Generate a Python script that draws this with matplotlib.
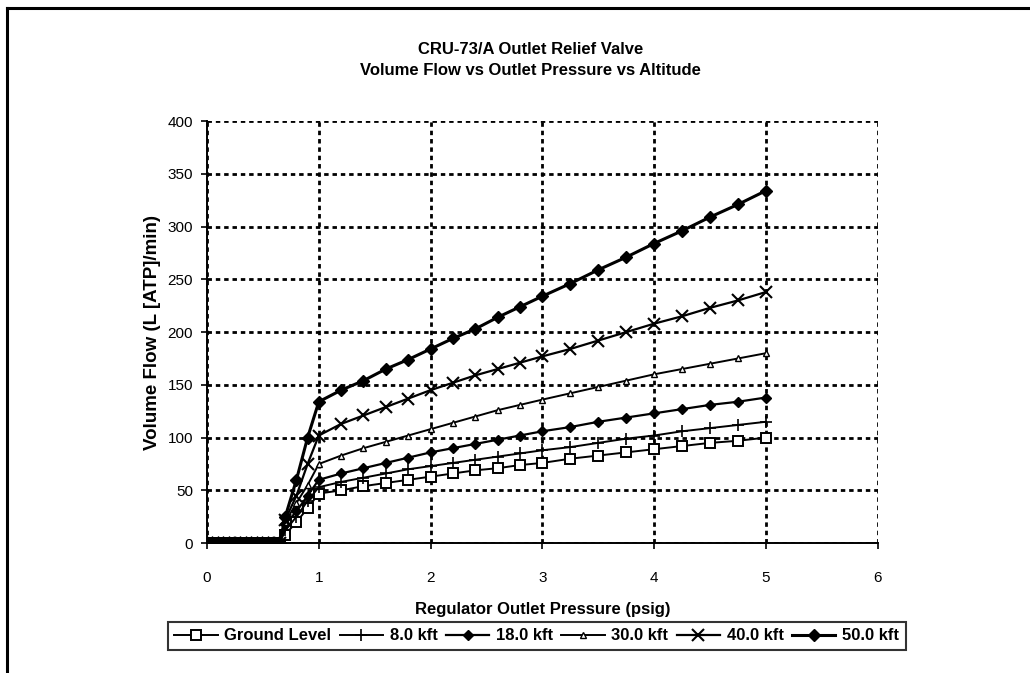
import matplotlib
matplotlib.use("Agg")
import matplotlib.pyplot as plt
from matplotlib.lines import Line2D
import numpy as np

plt.rcParams['font.family'] = ['Liberation Sans', 'DejaVu Sans']

# ---- data ----
x_zero = [0.0, 0.05, 0.1, 0.15, 0.2, 0.25, 0.3, 0.35, 0.4, 0.45, 0.5, 0.55, 0.6, 0.65]
x_rise = [0.7, 0.8, 0.9, 1.0, 1.2, 1.4, 1.6, 1.8, 2.0, 2.2, 2.4, 2.6, 2.8, 3.0,
          3.25, 3.5, 3.75, 4.0, 4.25, 4.5, 4.75, 5.0]
pressure = x_zero + x_rise
zeros = [0] * len(x_zero)

ground = zeros + [8, 20, 33, 47, 50, 54, 57, 60, 63, 66, 69, 71, 74, 76,
                  80, 83, 86, 89, 92, 95, 97, 100]
kft8 = zeros + [12, 25, 40, 53, 58, 62, 66, 70, 73, 76, 79, 82, 85, 88,
                91, 95, 99, 102, 106, 109, 112, 115]
kft18 = zeros + [18, 30, 45, 60, 66, 71, 76, 81, 86, 90, 94, 98, 102, 106,
                 110, 115, 119, 123, 127, 131, 134, 138]
kft30 = zeros + [20, 38, 55, 75, 83, 90, 96, 102, 108, 114, 120, 126, 131, 136,
                 142, 148, 154, 160, 165, 170, 175, 180]
kft40 = zeros + [22, 45, 75, 102, 113, 121, 129, 137, 145, 152, 159, 165, 171, 177,
                 184, 192, 200, 208, 215, 223, 230, 238]
kft50 = zeros + [25, 60, 100, 134, 145, 154, 165, 174, 184, 194, 203, 214, 224, 234,
                 246, 259, 271, 284, 296, 309, 321, 334]

labels = ["Ground Level", "8.0 kft", "18.0 kft", "30.0 kft", "40.0 kft", "50.0 kft"]
title = "CRU-73/A Outlet Relief Valve\nVolume Flow vs Outlet Pressure vs Altitude"
xlabel = "Regulator Outlet Pressure (psig)"
ylabel = "Volume Flow (L [ATP]/min)"
xticks = [0, 1, 2, 3, 4, 5, 6]
yticks = [0, 50, 100, 150, 200, 250, 300, 350, 400]

# ---- figure ----
fig = plt.figure(figsize=(10.30, 6.73), dpi=100)
ax = fig.add_axes([0.201, 0.193, 0.651, 0.627])

styles = [
    dict(marker='s', ms=6.5, mfc='white', mec='black', mew=1.4, lw=1.4),
    dict(marker='+', ms=8, mfc='black', mec='black', mew=1.2, lw=1.4),
    dict(marker='D', ms=5.5, mfc='black', mec='black', mew=1.0, lw=1.6),
    dict(marker='^', ms=5, mfc='white', mec='black', mew=1.0, lw=1.4),
    dict(marker='x', ms=8.5, mfc='black', mec='black', mew=1.5, lw=1.6),
    dict(marker='D', ms=6.5, mfc='black', mec='black', mew=1.0, lw=2.2),
]
series = [ground, kft8, kft18, kft30, kft40, kft50]
handles = []
for ys, lab, st in zip(series, labels, styles):
    h, = ax.plot(pressure, ys, color='black', label=lab, **st)
    handles.append(h)

ax.set_xlim(0, 6)
ax.set_ylim(0, 400)
ax.set_xticks(xticks)
ax.set_yticks(yticks)
ax.grid(True, color='black', linestyle=(0, (1.6, 1.4)), linewidth=2.0)
ax.set_axisbelow(True)
for s in ['top', 'right']:
    ax.spines[s].set_visible(False)
for s in ['left', 'bottom']:
    ax.spines[s].set_linewidth(1.4)
ax.tick_params(direction='out', length=4, width=1.2, labelsize=11)
ax.tick_params(axis='y', pad=6)
ax.tick_params(axis='x', pad=16)
ax.set_xlabel(xlabel, fontsize=12, fontweight='bold', labelpad=12)
ax.set_ylabel(ylabel, fontsize=13.5, fontweight='bold', labelpad=5)

fig.text(0.515, 0.911, title, ha='center', va='center', fontsize=12,
         fontweight='bold', linespacing=1.55)

leg = fig.legend(handles=handles, loc='center', bbox_to_anchor=(0.521, 0.055),
                 ncol=6, frameon=True, fancybox=False, edgecolor='black',
                 prop={'weight': 'bold', 'size': 12}, handlelength=2.6,
                 handletextpad=0.4, columnspacing=0.5, borderpad=0.4,
                 borderaxespad=0)
leg.get_frame().set_linewidth(1.5)

# outer border (top & left visible)
fig.add_artist(Line2D([0.007, 1.0], [0.988, 0.988], transform=fig.transFigure,
                      color='black', lw=2.2))
fig.add_artist(Line2D([0.007, 0.007], [0.0, 0.988], transform=fig.transFigure,
                      color='black', lw=2.2))

fig.savefig("out.png", dpi=100, facecolor='white')
